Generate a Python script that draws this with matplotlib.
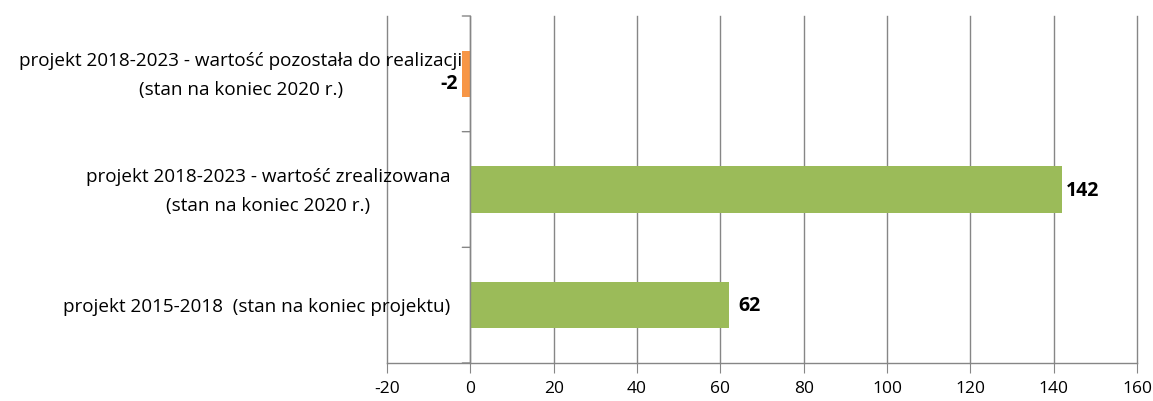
import matplotlib
matplotlib.use("Agg")
import matplotlib.pyplot as plt
from matplotlib.ticker import FixedLocator

plt.rcParams['font.family'] = ['Open Sans', 'DejaVu Sans']
plt.rcParams['axes.unicode_minus'] = False

categories = [
    "projekt 2015-2018  (stan na koniec projektu)",
    "projekt 2018-2023 - wartość zrealizowana\n(stan na koniec 2020 r.)",
    "projekt 2018-2023 - wartość pozostała do realizacji\n(stan na koniec 2020 r.)",
]
values = [62, 142, -2]
colors = ["#9BBB59", "#9BBB59", "#F79646"]
xticks = list(range(-20, 161, 20))

GRID = '#868686'
fig = plt.figure(figsize=(11.53, 4.02), dpi=100)
ax = fig.add_axes([387/1153, 1-364/402, (1137-387)/1153, (364-17)/402])

pos = list(range(len(categories)))
ax.barh(pos, values, height=0.4, color=colors, zorder=3)

ax.set_xlim(-20, 160)
ax.set_ylim(-0.5, len(categories) - 0.5)
ax.xaxis.set_major_locator(FixedLocator(xticks))
ax.grid(axis='x', color=GRID, linewidth=1, zorder=0)
ax.set_axisbelow(True)
for gl in ax.get_xgridlines():
    gl.set_clip_on(False)

for s in ['top', 'right', 'left']:
    ax.spines[s].set_visible(False)
ax.spines['bottom'].set_color(GRID)
ax.spines['bottom'].set_linewidth(1)
ax.tick_params(axis='x', direction='out', length=7, color=GRID, labelsize=12.5,
               labelcolor='black', pad=5)

# y axis at zero with tick marks at category boundaries
ax.axvline(0, color=GRID, linewidth=1, zorder=4)
ax.set_yticks([])
for b in [-0.5, 0.5, 1.5, 2.5]:
    ax.annotate('', xy=(0, b), xycoords='data', xytext=(-8, 0), textcoords='offset pixels',
                arrowprops=dict(arrowstyle='-', color=GRID, lw=1, shrinkA=0, shrinkB=0),
                annotation_clip=False)

# category labels next to the zero axis, line by line, block centred
fig.canvas.draw()
renderer = fig.canvas.get_renderer()
LINE_GAP = 29
right_offsets = [-20, -20, -8]
for p, lab, off in zip(pos, categories, right_offsets):
    lines = lab.split("\n")
    n = len(lines)
    texts = []
    for i, line in enumerate(lines):
        dy = ((n - 1) / 2 - i) * LINE_GAP - 1
        t = ax.annotate(line, xy=(0, p), xycoords='data', xytext=(off, dy),
                        textcoords='offset pixels', ha='right', va='center',
                        fontsize=13.6, annotation_clip=False)
        texts.append((t, dy))
    widths = [t.get_window_extent(renderer).width for t, _ in texts]
    wmax = max(widths)
    for (t, dy), w in zip(texts, widths):
        t.set_position((off - (wmax - w) / 2, dy))

# value labels
for p, v in zip(pos, values):
    if v >= 0:
        ax.annotate(str(v), xy=(v, p), xytext=(21, 0), textcoords='offset pixels',
                    ha='center', va='center', fontsize=14, fontweight='bold')
    else:
        ax.annotate(str(v), xy=(v, p), xytext=(-4, -9), textcoords='offset pixels',
                    ha='right', va='center', fontsize=14, fontweight='bold')

fig.savefig("out.png", dpi=100)
